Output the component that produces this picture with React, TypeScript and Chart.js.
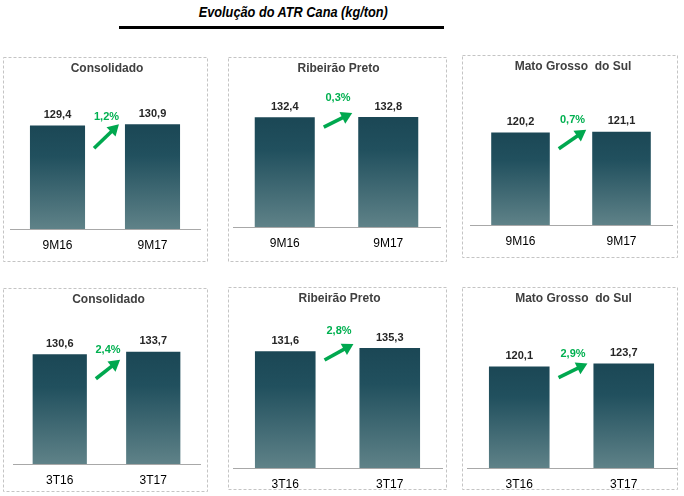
import React, { useEffect, useRef } from "react";
import { Chart, registerables } from "chart.js";

Chart.register(...registerables);

const FONT = "'Liberation Sans', Arial, Helvetica, sans-serif";

// Região de cada painel
const regionNames = ["Consolidado", "Ribeirão Preto", "Mato Grosso  do Sul"];

// Períodos
const periods9M = ["9M16", "9M17"];
const periods3T = ["3T16", "3T17"];

// ATR Cana (kg/ton) — acumulado 9 meses
const consolidado9M = [129.4, 130.9];
const ribeiraoPreto9M = [132.4, 132.8];
const matoGrossoSul9M = [120.2, 121.1];

// ATR Cana (kg/ton) — 3º trimestre
const consolidado3T = [130.6, 133.7];
const ribeiraoPreto3T = [131.6, 135.3];
const matoGrossoSul3T = [120.1, 123.7];

// Variação entre os períodos
const variation9M = ["1,2%", "0,3%", "0,7%"];
const variation3T = ["2,4%", "2,8%", "2,9%"];

// Topo do eixo Y de cada painel (eixo parte de zero)
const axisMax9M = [165, 157, 169];
const axisMax3T = [162, 159, 167];

// Caixa de cada painel na página e área de plotagem (coordenadas da página)
type PanelLayout = {
  left: number; top: number; width: number; height: number;
  areaLeft: number; areaRight: number; baseline: number;
  tailDy: number; headDy: number; labelDy: number;
};

const layouts: PanelLayout[] = [
  { left: 3, top: 57, width: 205, height: 205, areaLeft: 10, areaRight: 200, baseline: 229, tailDy: 24, headDy: 0, labelDy: -7 },
  { left: 228, top: 57, width: 219, height: 205, areaLeft: 233, areaRight: 440, baseline: 227, tailDy: 10, headDy: -4, labelDy: -19 },
  { left: 462, top: 55, width: 216, height: 203, areaLeft: 470, areaRight: 672, baseline: 225, tailDy: 17, headDy: -2, labelDy: -12 },
  { left: 3, top: 288, width: 205, height: 204, areaLeft: 13, areaRight: 200, baseline: 464, tailDy: 27, headDy: 8, labelDy: -2 },
  { left: 228, top: 287, width: 219, height: 203, areaLeft: 233, areaRight: 442, baseline: 468, tailDy: 12, headDy: -4, labelDy: -17 },
  { left: 462, top: 287, width: 216, height: 203, areaLeft: 467, areaRight: 676, baseline: 468, tailDy: 14, headDy: 0, labelDy: -10 },
];

type PanelSpec = {
  title: string;
  labels: string[];
  values: number[];
  variation: string;
  yMax: number;
  layout: PanelLayout;
};

const panels: PanelSpec[] = [
  { title: regionNames[0], labels: periods9M, values: consolidado9M, variation: variation9M[0], yMax: axisMax9M[0], layout: layouts[0] },
  { title: regionNames[1], labels: periods9M, values: ribeiraoPreto9M, variation: variation9M[1], yMax: axisMax9M[1], layout: layouts[1] },
  { title: regionNames[2], labels: periods9M, values: matoGrossoSul9M, variation: variation9M[2], yMax: axisMax9M[2], layout: layouts[2] },
  { title: regionNames[0], labels: periods3T, values: consolidado3T, variation: variation3T[0], yMax: axisMax3T[0], layout: layouts[3] },
  { title: regionNames[1], labels: periods3T, values: ribeiraoPreto3T, variation: variation3T[1], yMax: axisMax3T[1], layout: layouts[4] },
  { title: regionNames[2], labels: periods3T, values: matoGrossoSul3T, variation: variation3T[2], yMax: axisMax3T[2], layout: layouts[5] },
];

const AREA_TOP = 40;
const GREEN_TEXT = "#00b050";
const GREEN_ARROW = "#00a84f";

const fmt = (v: number) => v.toFixed(1).replace(".", ",");

function BarPanel({ spec }: { spec: PanelSpec }) {
  const ref = useRef<HTMLCanvasElement | null>(null);

  useEffect(() => {
    const canvas = ref.current;
    if (!canvas) return;
    const L = spec.layout;

    const decorations = {
      id: "panelDecorations",
      beforeDraw(chart: any) {
        const { ctx, width, height, chartArea } = chart;
        ctx.save();
        // moldura tracejada
        ctx.strokeStyle = "#c4c4c4";
        ctx.lineWidth = 1;
        ctx.setLineDash([3, 2]);
        ctx.strokeRect(0.5, 0.5, width - 1, height - 1);
        ctx.setLineDash([]);
        // título do painel
        ctx.fillStyle = "#404040";
        ctx.font = `bold 12px ${FONT}`;
        ctx.textAlign = "center";
        ctx.textBaseline = "middle";
        ctx.fillText(spec.title, (chartArea.left + chartArea.right) / 2 + 2, 11.5);
        ctx.restore();
      },
      afterDatasetsDraw(chart: any) {
        const { ctx } = chart;
        const bars = chart.getDatasetMeta(0).data;
        ctx.save();
        // rótulos de valor
        ctx.fillStyle = "#262626";
        ctx.font = `bold 11px ${FONT}`;
        ctx.textAlign = "center";
        ctx.textBaseline = "middle";
        bars.forEach((bar: any, i: number) => {
          ctx.fillText(fmt(spec.values[i]), bar.x, bar.y - 10.5);
        });
        // seta de variação
        const b1 = bars[0];
        const b2 = bars[1];
        const x1 = b1.x + b1.width / 2 + 9;
        const y1 = b2.y + L.tailDy;
        const x2 = b2.x - b2.width / 2 - 6;
        const y2 = b2.y + L.headDy;
        const ang = Math.atan2(y2 - y1, x2 - x1);
        const headLen = 11;
        const headHalf = 6.5;
        const bx = x2 - headLen * Math.cos(ang);
        const by = y2 - headLen * Math.sin(ang);
        ctx.strokeStyle = GREEN_ARROW;
        ctx.fillStyle = GREEN_ARROW;
        ctx.lineWidth = 3.6;
        ctx.lineCap = "butt";
        ctx.beginPath();
        ctx.moveTo(x1, y1);
        ctx.lineTo(bx + Math.cos(ang), by + Math.sin(ang));
        ctx.stroke();
        ctx.beginPath();
        ctx.moveTo(x2, y2);
        ctx.lineTo(bx + headHalf * Math.sin(ang), by - headHalf * Math.cos(ang));
        ctx.lineTo(bx - headHalf * Math.sin(ang), by + headHalf * Math.cos(ang));
        ctx.closePath();
        ctx.fill();
        // percentual
        ctx.fillStyle = GREEN_TEXT;
        ctx.font = `bold 11px ${FONT}`;
        ctx.fillText(spec.variation, (b1.x + b1.width / 2 + b2.x - b2.width / 2) / 2 + 1.5, b2.y + L.labelDy);
        ctx.restore();
      },
    };

    const bottomGap = L.top + L.height - L.baseline;

    const chart = new Chart(canvas, {
      type: "bar",
      data: {
        labels: spec.labels,
        datasets: [
          {
            data: spec.values,
            barPercentage: 0.58,
            categoryPercentage: 1,
            borderWidth: 0,
            backgroundColor: (c: any) => {
              const ch = c.chart;
              const area = ch.chartArea;
              if (!area || c.raw == null) return "#2f5d68";
              const yTop = ch.scales.y.getPixelForValue(c.raw);
              const g = ch.ctx.createLinearGradient(0, yTop, 0, area.bottom);
              g.addColorStop(0, "#1b4755");
              g.addColorStop(0.3, "#21505e");
              g.addColorStop(1, "#5f8288");
              return g;
            },
          },
        ],
      },
      options: {
        responsive: false,
        animation: false,
        devicePixelRatio: 1,
        layout: {
          padding: {
            left: L.areaLeft - L.left,
            right: L.left + L.width - L.areaRight,
            top: AREA_TOP,
            bottom: 0,
          },
        },
        plugins: {
          legend: { display: false },
          tooltip: { enabled: false },
          title: { display: false },
        },
        scales: {
          x: {
            grid: { display: false, drawTicks: false },
            border: { display: true, color: "#a8a8a8", width: 1 },
            ticks: {
              color: "#000000",
              font: { family: FONT, size: 12 },
              padding: 9,
            },
            afterFit: (scale: any) => {
              scale.height = bottomGap;
            },
          },
          y: {
            display: false,
            min: 0,
            max: spec.yMax,
          },
        },
      },
      plugins: [decorations],
    });

    return () => chart.destroy();
  }, [spec]);

  const L = spec.layout;
  return (
    <canvas
      ref={ref}
      width={L.width}
      height={L.height}
      style={{ position: "absolute", left: L.left, top: L.top, width: L.width, height: L.height }}
    />
  );
}

export default function App() {
  return (
    <div style={{ position: "absolute", left: 0, top: 0, width: 684, height: 496, background: "#ffffff", overflow: "hidden" }}>
      <div
        style={{
          position: "absolute",
          left: 0,
          top: 2,
          width: 586,
          textAlign: "center",
          fontFamily: FONT,
          fontWeight: "bold",
          fontStyle: "italic",
          fontSize: 15,
          lineHeight: "19px",
          color: "#000000",
        }}
      >
        <span style={{ display: "inline-block", transform: "scaleX(0.85)" }}>Evolução do ATR Cana (kg/ton)</span>
      </div>
      <div style={{ position: "absolute", left: 119, top: 26, width: 325, height: 3, background: "#000000" }} />
      {panels.map((p, i) => (
        <BarPanel key={i} spec={p} />
      ))}
    </div>
  );
}
